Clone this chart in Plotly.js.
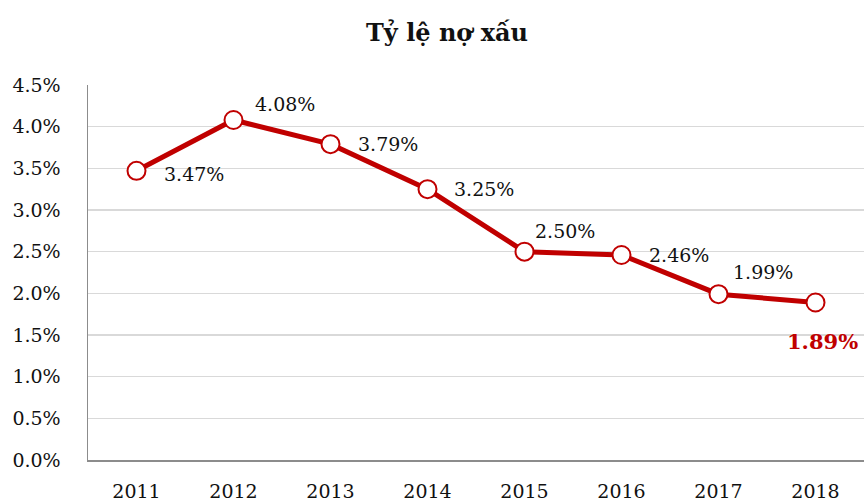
<!DOCTYPE html>
<html><head><meta charset="utf-8">
<script src="https://cdn.plot.ly/plotly-3.0.1.min.js"></script>
<style>html,body{margin:0;padding:0;background:#fff}#c{width:864px;height:504px}</style>
</head><body><div id="c"></div>
<script>
const years = ["2011","2012","2013","2014","2015","2016","2017","2018"];
const nplRate = [3.47, 4.08, 3.79, 3.25, 2.50, 2.46, 1.99, 1.89];
const labelText = nplRate.map(v => v.toFixed(2) + "%");

// label offsets (style)
const offX = [25, 19, 25, 24, 8, 25, 12, -31];
const offY = [-3, 16, 0, 0, 21, 0, 22, -39];

const FONT = "'DejaVu Serif', 'Liberation Serif', serif";
const RED = "#C00000";

const annotations = years.map((y, i) => {
  const last = i === years.length - 1;
  return {
    x: i, y: nplRate[i], xref: "x", yref: "y",
    text: last ? "<b>" + labelText[i] + "</b>" : labelText[i],
    showarrow: false, xanchor: "left", yanchor: "middle",
    xshift: offX[i], yshift: offY[i],
    font: {family: FONT, size: last ? 21 : 19, color: last ? RED : "#111"}
  };
});

const trace = {
  x: years, y: nplRate, type: "scatter", mode: "lines+markers",
  line: {color: RED, width: 5},
  marker: {symbol: "circle", size: 18, color: "#fff", line: {color: RED, width: 2}},
  hoverinfo: "skip", cliponaxis: false
};

const layout = {
  width: 864, height: 504,
  margin: {l: 88, r: 0, t: 85, b: 44},
  paper_bgcolor: "#fff", plot_bgcolor: "#fff",
  showlegend: false,
  title: {text: "<b>Tỷ lệ nợ xấu</b>", font: {family: FONT, size: 24, color: "#111"},
          x: 447/864, xanchor: "center", xref: "container", y: 1 - 33/504, yanchor: "middle", yref: "container"},
  xaxis: {type: "category", range: [-0.5, 7.5], showgrid: false, showline: true, linecolor: "#8c8c8c", linewidth: 1.5,
          ticks: "", tickfont: {family: FONT, size: 19, color: "#111"}, ticklabelstandoff: 14, fixedrange: true},
  yaxis: {range: [0, 4.5], dtick: 0.5, tickformat: ".1f", ticksuffix: "%", showgrid: true, gridcolor: "#d9d9d9", gridwidth: 1.5,
          zeroline: false, showline: true, linecolor: "#8c8c8c", linewidth: 1.5, ticks: "",
          tickfont: {family: FONT, size: 19, color: "#111"}, ticklabelstandoff: 22, fixedrange: true},
  annotations: annotations
};

Plotly.newPlot("c", [trace], layout, {staticPlot: true, displayModeBar: false});
</script></body></html>
